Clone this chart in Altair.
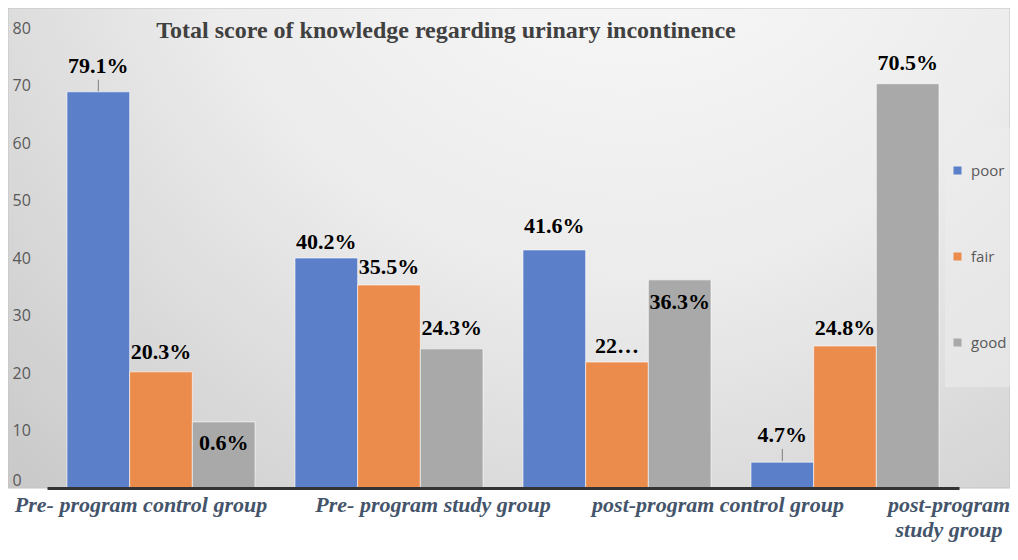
import altair as alt
import pandas as pd

groups = ["Pre- program control group", "Pre- program study group",
          "post-program control group", "post-program study group"]
series = ["poor", "fair", "good"]
colors = ["#5B7FC9", "#EB8B4C", "#A9A9A9"]

poor = [68.9, 40.0, 41.4, 4.5]
fair = [20.2, 35.3, 21.9, 24.7]
good = [11.5, 24.2, 36.2, 70.3]

poor_labels = ["79.1%", "40.2%", "41.6%", "4.7%"]
fair_labels = ["20.3%", "35.5%", "22…", "24.8%"]
good_labels = ["0.6%", "24.3%", "36.3%", "70.5%"]

# label anchor heights (data units) as placed in the original
poor_label_y = [73.4, 42.8, 45.6, 9.2]
fair_label_y = [23.65, 38.4, 24.7, 27.8]
good_label_y = [7.83, 27.8, 32.35, 73.9]

# leader lines (group, series, top, bottom)
leader_group = [groups[0], groups[3]]
leader_series = ["poor", "poor"]
leader_top = [71.0, 6.8]
leader_bottom = [69.0, 4.7]

title_text = "Total score of knowledge regarding urinary incontinence"

rows = []
for s, vals, labs, ly in [("poor", poor, poor_labels, poor_label_y),
                          ("fair", fair, fair_labels, fair_label_y),
                          ("good", good, good_labels, good_label_y)]:
    for g, v, l, y in zip(groups, vals, labs, ly):
        rows.append({"group": g, "series": s, "value": v, "label": l, "label_y": y})
df = pd.DataFrame(rows)
leaders = pd.DataFrame({"group": leader_group, "series": leader_series,
                        "top": leader_top, "bottom": leader_bottom})

label_offset = {
    "condition": [
        {"test": "datum.value === 'Pre- program control group'", "value": -20},
        {"test": "datum.value === 'Pre- program study group'", "value": 44},
        {"test": "datum.value === 'post-program control group'", "value": 101},
    ],
    "value": 104,
}

x_axis = alt.Axis(
    title=None, domainColor="#333333", domainWidth=3, ticks=False, grid=False,
    labelFont="Liberation Serif", labelFontStyle="italic", labelFontWeight="bold",
    labelFontSize=22, labelColor="#44546A", labelPadding=6, labelAngle=0,
    labelOverlap=False, labelBaseline="top", labelLineHeight=25, labelLimit=0,
    labelExpr="datum.value == 'post-program study group' ? ['post-program', 'study group'] : datum.label",
    labelOffset=label_offset, zindex=1,
)
x_enc = alt.X("group:N", sort=groups, axis=x_axis,
              scale=alt.Scale(paddingInner=0.1754, paddingOuter=0.0877))
xo_enc = alt.XOffset("series:N", sort=series, scale=alt.Scale(domain=series, paddingInner=0, paddingOuter=0))
y_scale = alt.Scale(domain=[0, 80], nice=False)

dummy = pd.DataFrame({"k": [0]})

bg = alt.Chart(dummy).mark_rect(
    fill={"gradient": "radial", "x1": 0.62, "y1": 0.08, "x2": 0.62, "y2": 0.08,
          "r1": 0, "r2": 0.9,
          "stops": [{"offset": 0, "color": "#fbfbfb"},
                    {"offset": 0.5, "color": "#ececec"},
                    {"offset": 1, "color": "#c9c9c9"}]},
    stroke="#c4c4c4", strokeWidth=1,
).encode(x=alt.value(-39), x2=alt.value(963), y=alt.value(-20), y2=alt.value(460))

legend_box = alt.Chart(dummy).mark_rect(fill="#ececec", opacity=0.55).encode(
    x=alt.value(898), x2=alt.value(963), y=alt.value(100), y2=alt.value(359))

bars = alt.Chart(df).mark_bar(stroke="white", strokeWidth=1, strokeOpacity=0.6).encode(
    x=x_enc,
    xOffset=xo_enc,
    y=alt.Y("value:Q", scale=y_scale,
            axis=alt.Axis(title=None, values=list(range(0, 81, 10)), domain=False,
                          ticks=False, tickSize=0, grid=False, labelAlign="left",
                          labelBaseline={"condition": {"test": "datum.value === 0", "value": "bottom"},
                                         "value": "middle"},
                          labelPadding=35, labelFont="Open Sans", labelFontSize=16,
                          labelColor="#595959", zindex=1)),
    color=alt.Color("series:N", sort=series,
                    scale=alt.Scale(domain=series, range=colors),
                    legend=alt.Legend(orient="none", legendX=903, legendY=135,
                                      direction="vertical", title=None,
                                      symbolType="square", symbolSize=64,
                                      symbolStrokeWidth=0, labelFont="Open Sans",
                                      labelFontSize=15, labelColor="#595959",
                                      labelOffset=6, rowPadding=70, padding=0,
                                      labelLimit=0)),
)

rules = alt.Chart(leaders).mark_rule(color="#7f7f7f", strokeWidth=1).encode(
    x=x_enc, xOffset=xo_enc,
    y=alt.Y("top:Q", scale=y_scale), y2="bottom:Q")

labels = alt.Chart(df).mark_text(
    font="Liberation Serif", fontWeight="bold", fontSize=22, color="black",
    baseline="middle", align="center",
).encode(x=x_enc, xOffset=xo_enc, y=alt.Y("label_y:Q", scale=y_scale), text="label:N")

title = alt.Chart(dummy).mark_text(
    text=title_text, font="Liberation Serif", fontWeight="bold", fontSize=24,
    color="#404040", align="center", baseline="middle",
).encode(x=alt.value(399), y=alt.value(3))

chart = alt.layer(bg, legend_box, bars, rules, labels, title).properties(
    width=912, height=460,
    padding={"left": 39, "top": 20, "right": 51, "bottom": 64},
    autosize=alt.AutoSizeParams(type="none"),
).configure_view(stroke=None).configure(background="white")

chart.save("out.html", embed_options={"renderer": "svg", "actions": False})
